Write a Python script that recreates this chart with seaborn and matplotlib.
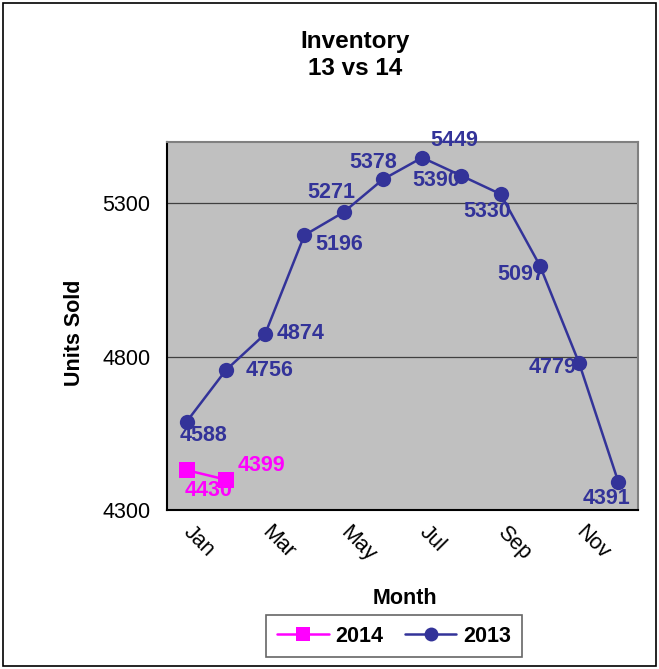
import pandas as pd
import numpy as np
import matplotlib
matplotlib.use("Agg")
import matplotlib.pyplot as plt
import seaborn as sns
from matplotlib.patches import Rectangle

months = ["Jan", "Feb", "Mar", "Apr", "May", "Jun",
          "Jul", "Aug", "Sep", "Oct", "Nov", "Dec"]
units_2013 = [4588, 4756, 4874, 5196, 5271, 5378, 5449, 5390, 5330, 5097, 4779, 4391]
units_2014 = [4430, 4399]

# label offsets in pixels (dx, dy) for each point
off_2013 = [(17, -14), (44, 0), (35, 0), (35, -9), (-12, 20), (-10, 17),
            (32, 17), (-25, -5), (-13, -17), (-19, -9), (-27, -4), (-12, -16)]
off_2014 = [(22, -20), (36, 14)]

navy = "#333399"
magenta = "#FF00FF"

df = pd.concat([
    pd.DataFrame({"pos": range(len(units_2014)), "units": units_2014, "year": "2014"}),
    pd.DataFrame({"pos": range(len(units_2013)), "units": units_2013, "year": "2013"}),
])

sns.set_style("white")
plt.rcParams["font.family"] = ["Liberation Sans", "DejaVu Sans"]
plt.rcParams["text.color"] = "black"
plt.rcParams["xtick.color"] = "black"
plt.rcParams["ytick.color"] = "black"

fs = 15.5

fig = plt.figure(figsize=(6.59, 6.69), dpi=100)
ax = fig.add_axes([167 / 659, 1 - 510 / 669, 471 / 659, 368 / 669])
ax.set_facecolor("#C0C0C0")

sns.lineplot(data=df, x="pos", y="units", hue="year", style="year",
             hue_order=["2014", "2013"], style_order=["2014", "2013"],
             palette={"2014": magenta, "2013": navy},
             markers={"2014": "s", "2013": "o"}, dashes=False,
             linewidth=1.8, markeredgewidth=0, markersize=11, ax=ax, legend=False)

for i, v in enumerate(units_2013):
    ax.annotate(str(v), (i, v), xytext=off_2013[i], textcoords="offset pixels",
                ha="center", va="center", color=navy, fontsize=fs, fontweight="bold")
for i, v in enumerate(units_2014):
    ax.annotate(str(v), (i, v), xytext=off_2014[i], textcoords="offset pixels",
                ha="center", va="center", color=magenta, fontsize=fs, fontweight="bold")

ax.set_xlim(-0.5, 11.5)
ax.set_ylim(4300, 5500)
ax.set_yticks([4300, 4800, 5300])
ax.set_yticklabels(["4300", "4800", "5300"], fontsize=fs)
ax.grid(axis="y", color="#404040", linewidth=0.9)
ax.set_axisbelow(True)

ax.set_xticks(np.arange(-0.5, 12, 1))
ax.set_xticklabels([])
ax.tick_params(axis="x", which="major", direction="out", length=6, width=1, color="#404040")
ax.tick_params(axis="y", direction="out", length=6, width=1, color="#404040", pad=6)
ax.set_xticks(np.arange(0, 12, 2), minor=True)
ax.set_xticklabels(months[::2], minor=True, fontsize=fs, rotation=-45,
                   ha="left", va="center", rotation_mode="anchor")
ax.tick_params(axis="x", which="minor", length=0, pad=14)

for s in ["left", "bottom"]:
    ax.spines[s].set_color("black")
    ax.spines[s].set_linewidth(1.5)
for s in ["top", "right"]:
    ax.spines[s].set_color("#808080")
    ax.spines[s].set_linewidth(1.5)

ax.set_xlabel("")
ax.set_ylabel("")
fig.text(405 / 659, 1 - 598 / 669, "Month", ha="center", va="center",
         fontsize=fs, fontweight="bold")
fig.text(75 / 659, 1 - 333 / 669, "Units Sold", ha="center", va="center",
         rotation=90, fontsize=fs, fontweight="bold")
fig.text(355 / 659, 1 - 55 / 669, "Inventory\n13 vs 14", ha="center", va="center",
         fontsize=17.5, fontweight="bold", linespacing=1.25)

handles = [plt.Line2D([], [], color=magenta, marker="s", markersize=10, markeredgewidth=0, linewidth=1.8),
           plt.Line2D([], [], color=navy, marker="o", markersize=10, markeredgewidth=0, linewidth=1.8)]
leg = fig.legend(handles, ["2014", "2013"], loc="center", bbox_to_anchor=(394 / 659, 1 - 636 / 669),
                 ncol=2, frameon=True, fancybox=False, edgecolor="#404040",
                 prop={"size": fs, "weight": "bold"}, handlelength=2.4, columnspacing=1.0,
                 borderpad=0.5, handletextpad=0.3, borderaxespad=0)
leg.get_frame().set_linewidth(1.2)

fig.patches.append(Rectangle((3 / 659, 3 / 669), 653 / 659, 663 / 669, transform=fig.transFigure,
                             fill=False, edgecolor="black", linewidth=1.2))

fig.savefig("out.png", dpi=100)
